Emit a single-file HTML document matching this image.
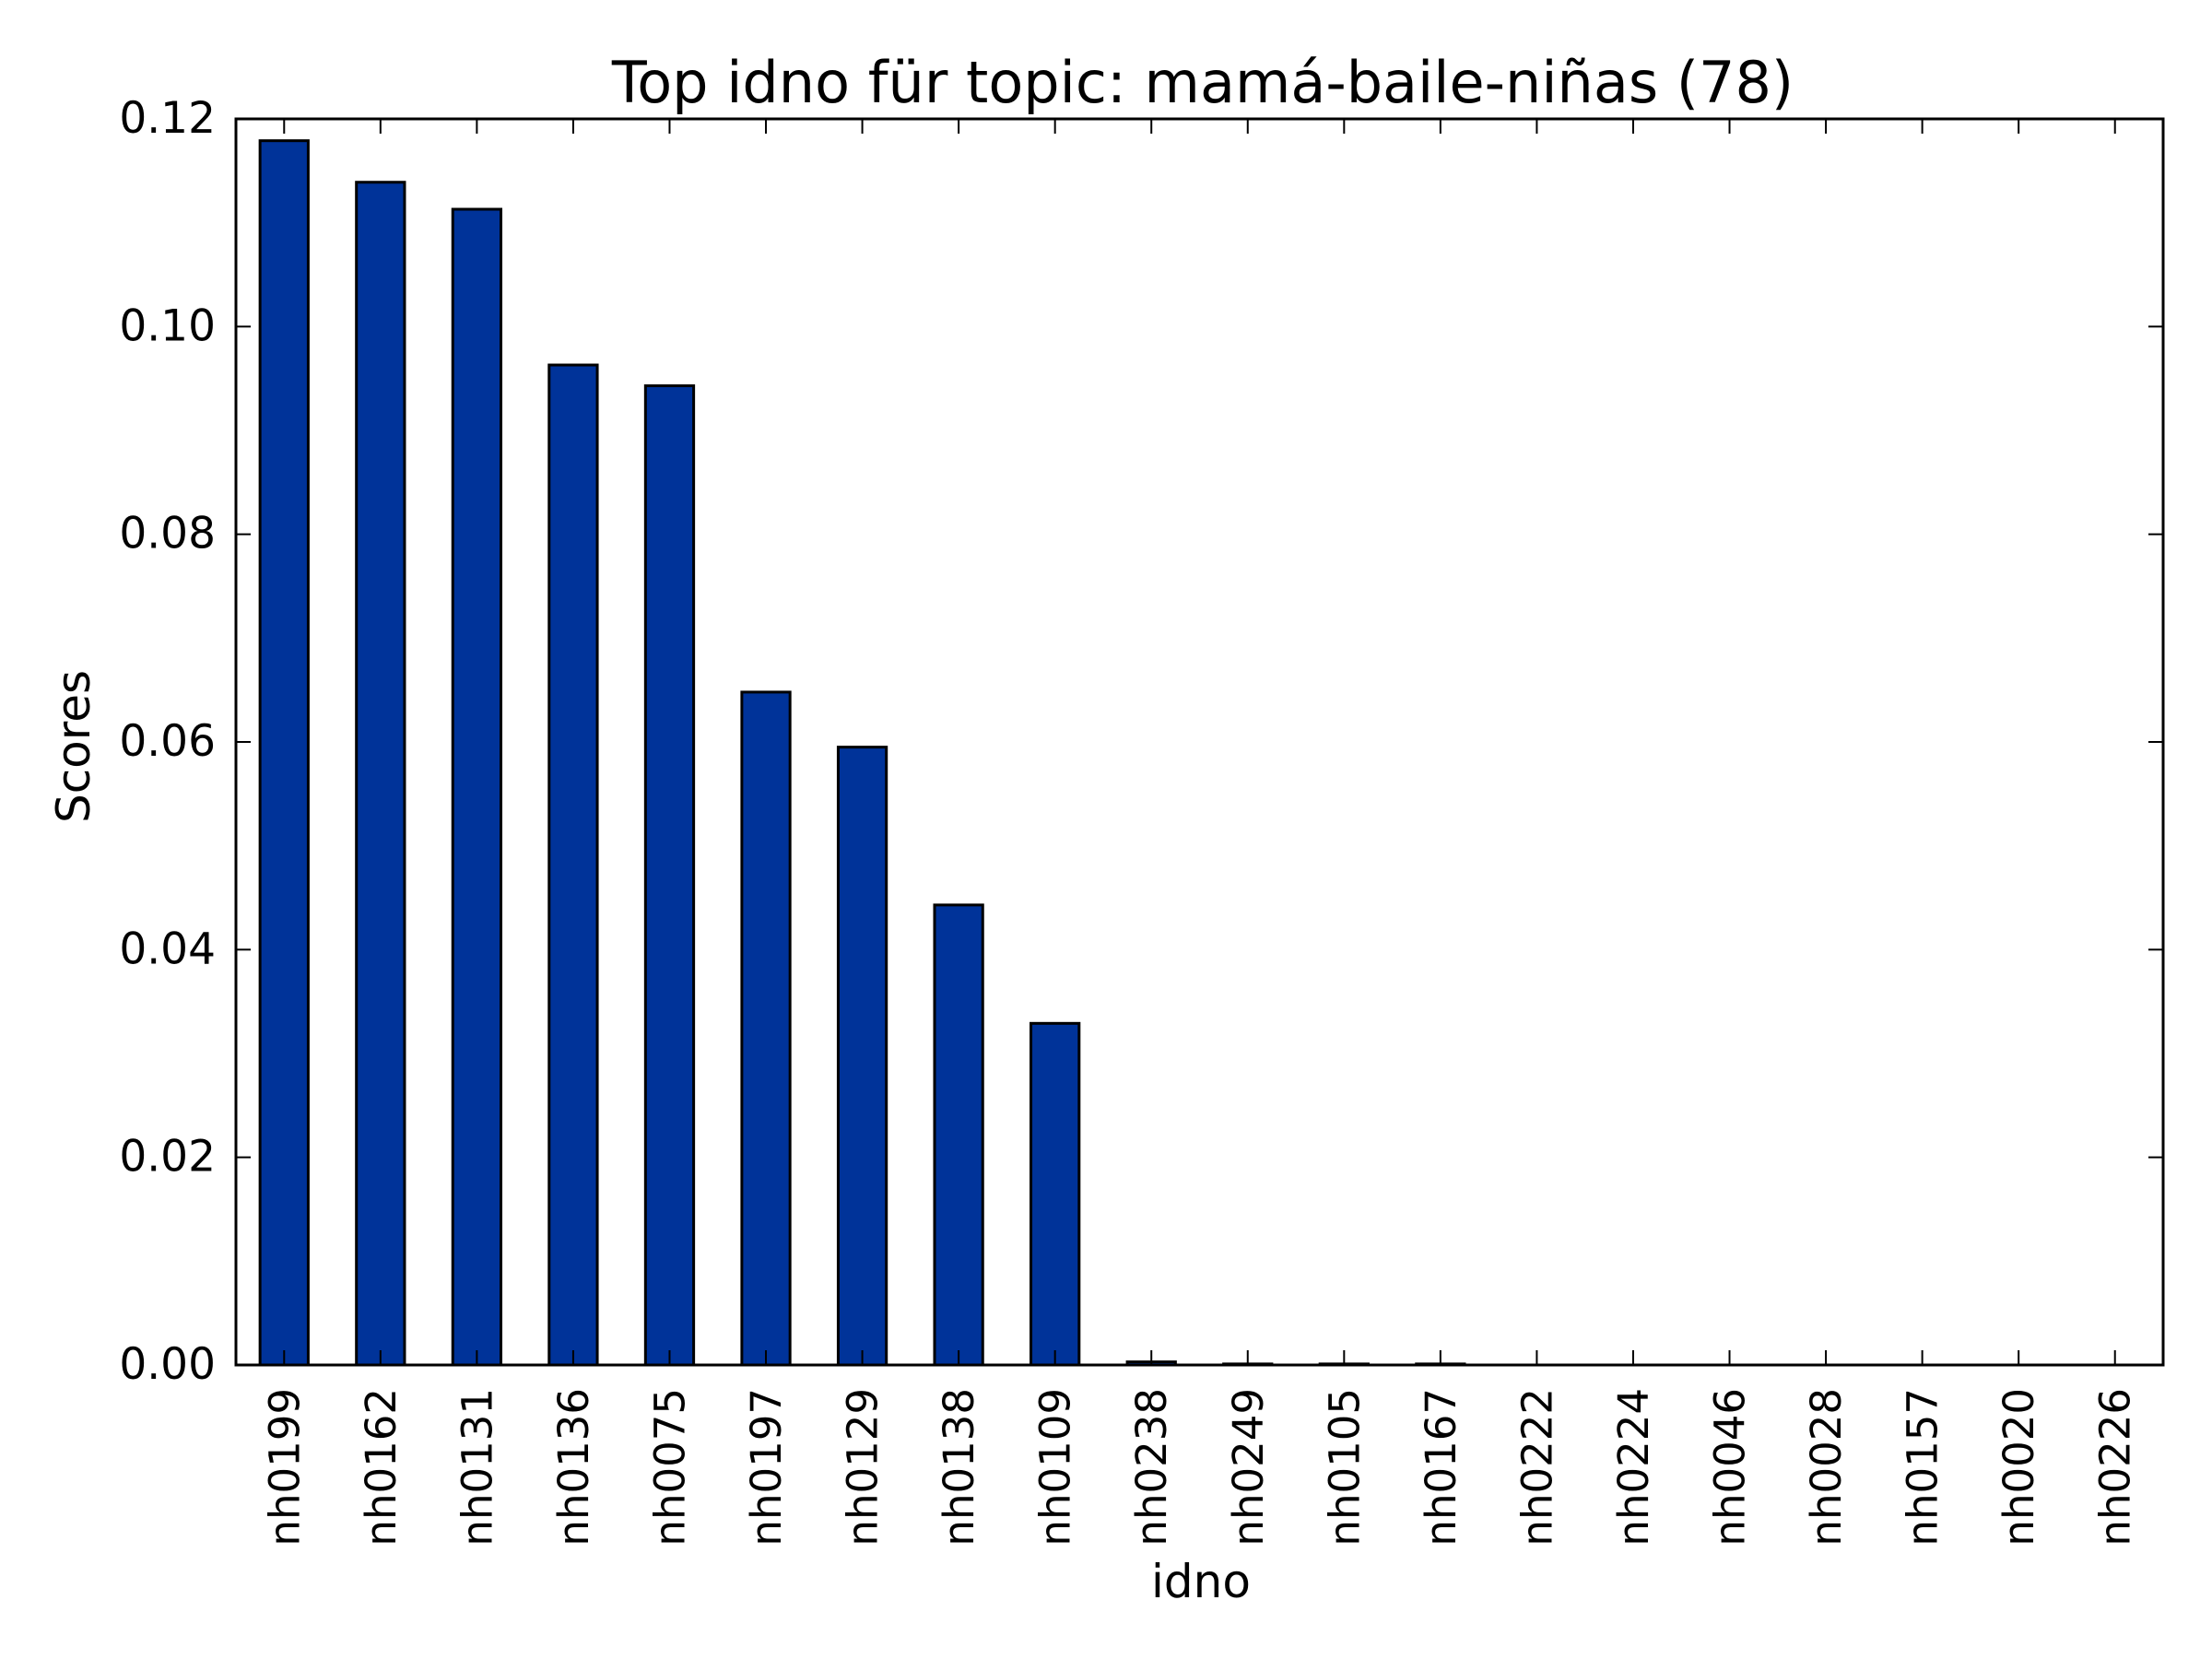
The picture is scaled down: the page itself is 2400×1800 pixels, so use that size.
<!DOCTYPE html>
<html><head><meta charset="utf-8"><style>
html,body{margin:0;padding:0;background:#fff;}
svg{display:block;font-family:"DejaVu Sans","Liberation Sans",sans-serif;}
</style></head><body>
<svg id="chart" width="2400" height="1800" viewBox="0 0 2400 1800" xmlns="http://www.w3.org/2000/svg">
<rect x="0" y="0" width="2400" height="1800" fill="#fff"/>
<text x="1305" y="111" font-size="62" text-anchor="middle">Top idno für topic: mamá-baile-niñas (78)</text>
<text transform="translate(97,810) rotate(-90)" font-size="50" text-anchor="middle">Scores</text>
<text x="1303" y="1733" font-size="50" text-anchor="middle">idno</text>
<g id="bars"></g>
<g id="ticks"></g>
<rect x="256" y="129" width="2091" height="1352" fill="none" stroke="#000" stroke-width="3"/>
</svg>
<script>
const categories = ["nh0199","nh0162","nh0131","nh0136","nh0075","nh0197","nh0129","nh0138","nh0109","nh0238","nh0249","nh0105","nh0167","nh0222","nh0224","nh0046","nh0028","nh0157","nh0020","nh0226"];
const scores = [0.1179,0.1139,0.1113,0.0963,0.0943,0.0648,0.0595,0.0443,0.0329,0.0003,0.0001,0.0001,0.0001,0,0,0,0,0,0,0];
const yTicks = [0,0.02,0.04,0.06,0.08,0.10,0.12];
const yTickLabels = ["0.00","0.02","0.04","0.06","0.08","0.10","0.12"];

const L=256,R=2347,T=129,B=1481,YMAX=0.12;
const NS="http://www.w3.org/2000/svg";
const step=(R-L)/categories.length;
const xc=i=>L+step*(i+0.5);
const y=v=>B-(v/YMAX)*(B-T);
const bars=document.getElementById('bars');
const ticks=document.getElementById('ticks');
function mk(tag,attrs,parent){const e=document.createElementNS(NS,tag);for(const k in attrs)e.setAttribute(k,attrs[k]);parent.appendChild(e);return e;}
categories.forEach((c,i)=>{
  const h=B-y(scores[i]);
  const r=mk('rect',{x:xc(i)-step/4,y:y(scores[i]),width:step/2,height:Math.max(h,0),fill:'#003399',stroke:'#000','stroke-width':3},bars);
  
  
  const t1=mk('line',{x1:xc(i),x2:xc(i),y1:B,y2:B-16,stroke:'#000','stroke-width':2},ticks);
  
  
  const t2=mk('line',{x1:xc(i),x2:xc(i),y1:T,y2:T+16,stroke:'#000','stroke-width':2},ticks);
  
  
  const lb=mk('text',{transform:`translate(${xc(i)+16},1506) rotate(-90)`,'font-size':45,'text-anchor':'end'},ticks);
  lb.textContent=c;
  
  
});
yTicks.forEach((v,i)=>{
  const a=mk('line',{x1:L,x2:L+16,y1:y(v),y2:y(v),stroke:'#000','stroke-width':2},ticks);
  
  
  const b=mk('line',{x1:R,x2:R-16,y1:y(v),y2:y(v),stroke:'#000','stroke-width':2},ticks);
  
  
  const t=mk('text',{x:234,y:y(v)+15,'font-size':47,'text-anchor':'end'},ticks);
  t.textContent=yTickLabels[i];
  
  
});
</script>
</body></html>
